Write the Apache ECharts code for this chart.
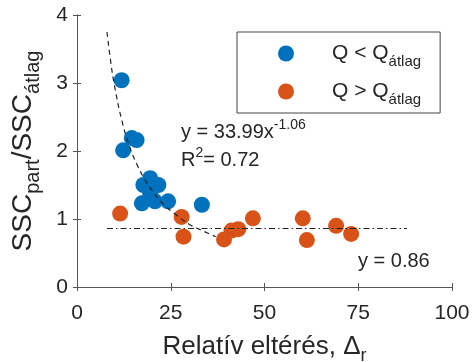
<!DOCTYPE html>
<html>
<head>
<meta charset="utf-8">
<script src="https://cdn.jsdelivr.net/npm/echarts@6/dist/echarts.min.js"></script>
<style>
  html, body { margin: 0; padding: 0; background: #fff; }
  #chart { width: 472px; height: 362px; }
</style>
</head>
<body>
<div id="chart"></div>
<script>
// Q < Q_atlag (blue)
var blueX = [11.9, 14.6, 15.9, 12.3, 19.5, 17.7, 21.7, 19.5, 17.3, 20.8, 24.3, 33.3];
var blueY = [3.04, 2.19, 2.16, 2.01, 1.60, 1.50, 1.50, 1.38, 1.23, 1.26, 1.26, 1.21];
// Q > Q_atlag (orange)
var orangeX = [11.5, 27.9, 28.4, 39.2, 41.2, 43.0, 46.9, 60.2, 61.3, 69.1, 73.1];
var orangeY = [1.08, 1.03, 0.74, 0.70, 0.83, 0.85, 1.01, 1.01, 0.69, 0.90, 0.78];
// fitted power curve
var fitX = [8, 9, 10, 12, 14, 16, 18, 20, 23, 26, 30, 33, 37];
var fitY = [3.75, 3.31, 2.96, 2.44, 2.07, 1.80, 1.59, 1.42, 1.22, 1.08, 0.92, 0.84, 0.74];
// mean line
var meanX = [8, 88];
var meanY = [0.86, 0.86];

var xTicks = [0, 25, 50, 75, 100];
var yTicks = [0, 1, 2, 3, 4];

var font = "'Liberation Sans', Arial, sans-serif";
var txt = '#262626';
var axisCol = '#555';

function pairs(xs, ys) {
  return xs.map(function (x, i) { return [x, ys[i]]; });
}

var chart = echarts.init(document.getElementById('chart'));

var baseX = {
  type: 'value', min: xTicks[0], max: xTicks[xTicks.length - 1], interval: 25,
  splitLine: { show: false },
  axisLine: { lineStyle: { color: axisCol, width: 1 } },
  axisTick: { inside: true, length: 4, lineStyle: { color: axisCol } }
};
var baseY = {
  type: 'value', min: yTicks[0], max: yTicks[yTicks.length - 1], interval: 1,
  splitLine: { show: false },
  axisLine: { lineStyle: { color: axisCol, width: 1 } },
  axisTick: { inside: true, length: 4, lineStyle: { color: axisCol } }
};

var option = {
  animation: false,
  textStyle: { fontFamily: font },
  grid: { left: 77, right: 20, top: 15, bottom: 75, containLabel: false, outerBoundsMode: 'none' },
  legend: {
    left: 237, top: 32,
    orient: 'vertical',
    data: ['lo', 'hi'],
    icon: 'circle',
    itemWidth: 16, itemHeight: 16,
    itemGap: 12,
    padding: [11, 19, 6, 41],
    borderColor: '#444', borderWidth: 1,
    formatter: function (n) {
      return n === 'lo' ? '{m|Q < Q}{s|átlag}' : '{m|Q > Q}{s|átlag}';
    },
    textStyle: {
      rich: {
        m: { fontSize: 21, color: txt, fontFamily: font, padding: [0, 0, 0, 33], verticalAlign: 'middle' },
        s: { fontSize: 15, color: txt, fontFamily: font, padding: [16, 0, 0, 0], verticalAlign: 'bottom' }
      }
    }
  },
  xAxis: [
    Object.assign({}, baseX, {
      position: 'bottom',
      axisLabel: { fontSize: 21, color: txt, margin: 16, fontFamily: font },
      name: '{m|Relatív eltérés, Δ}{s|r}',
      nameLocation: 'middle',
      nameGap: 42,
      nameTextStyle: {
        rich: {
          m: { fontSize: 26, color: txt, fontFamily: font, verticalAlign: 'middle' },
          s: { fontSize: 18, color: txt, fontFamily: font, padding: [18, 0, 0, 0], verticalAlign: 'bottom' }
        }
      }
    }),
    Object.assign({}, baseX, { position: 'top', axisLabel: { show: false } })
  ],
  yAxis: [
    Object.assign({}, baseY, {
      position: 'left',
      axisLabel: { fontSize: 21, color: txt, margin: 9, fontFamily: font },
      name: '{m|SSC}{s|part}{m|/SSC}{s|átlag}',
      nameLocation: 'middle',
      nameRotate: 90,
      nameGap: 34,
      nameTextStyle: {
        rich: {
          m: { fontSize: 28, color: txt, fontFamily: font, verticalAlign: 'middle' },
          s: { fontSize: 20, color: txt, fontFamily: font, padding: [20, 0, 0, 0], verticalAlign: 'bottom' }
        }
      }
    }),
    Object.assign({}, baseY, { position: 'right', axisLabel: { show: false } })
  ],
  series: [
    {
      name: 'lo', type: 'scatter', data: pairs(blueX, blueY),
      symbolSize: 16, itemStyle: { color: '#0072BD', opacity: 1 }, z: 2
    },
    {
      name: 'hi', type: 'scatter', data: pairs(orangeX, orangeY),
      symbolSize: 16, itemStyle: { color: '#D95319', opacity: 1 }, z: 2
    },
    {
      name: 'fit', type: 'line', data: pairs(fitX, fitY), smooth: true,
      showSymbol: false, lineStyle: { color: '#222', width: 1.2, type: [5, 4] }, z: 3
    },
    {
      name: 'mean', type: 'line', data: pairs(meanX, meanY),
      showSymbol: false, lineStyle: { color: '#222', width: 1.2, type: [6, 3, 1.5, 3] }, z: 3
    }
  ],
  graphic: [
    {
      type: 'text', left: 181, top: 118,
      style: {
        text: '{m|y = 33.99x}{s|-1.06}',
        rich: {
          m: { fontSize: 20, fill: txt, fontFamily: font, verticalAlign: 'middle' },
          s: { fontSize: 14, fill: txt, fontFamily: font, padding: [0, 0, 14, 0], verticalAlign: 'top' }
        }
      }
    },
    {
      type: 'text', left: 181, top: 146,
      style: {
        text: '{m|R}{s|2}{m|= 0.72}',
        rich: {
          m: { fontSize: 20, fill: txt, fontFamily: font, verticalAlign: 'middle' },
          s: { fontSize: 14, fill: txt, fontFamily: font, padding: [0, 0, 14, 0], verticalAlign: 'top' }
        }
      }
    },
    {
      type: 'text', left: 358, top: 251,
      style: { text: 'y = 0.86', fontSize: 20, fill: txt, fontFamily: font }
    }
  ]
};

chart.setOption(option);
</script>
</body>
</html>
